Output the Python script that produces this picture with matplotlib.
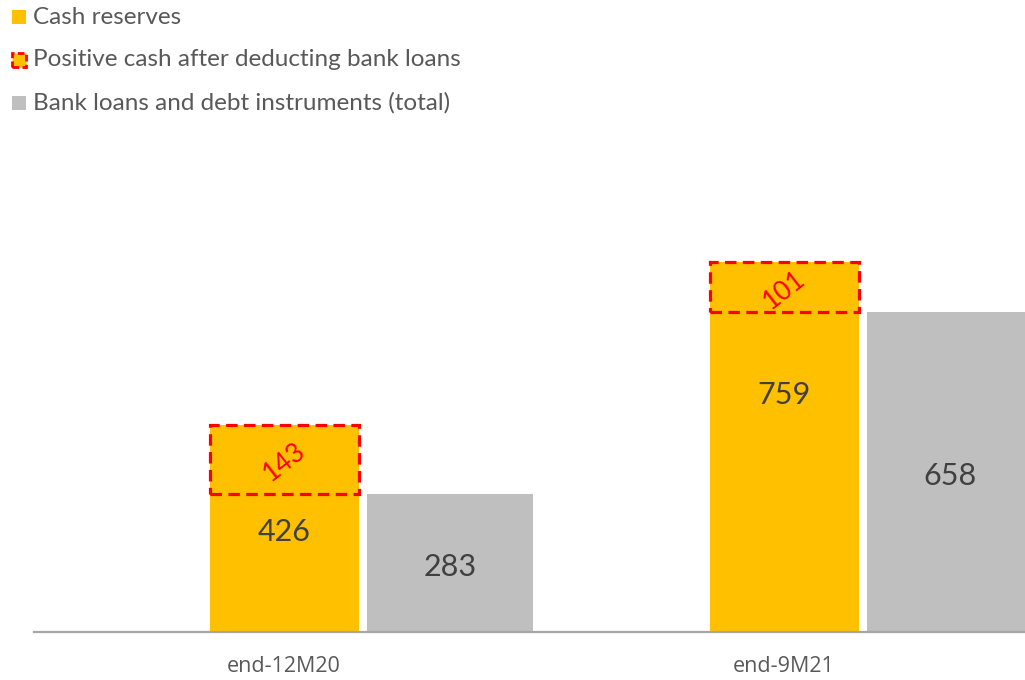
import matplotlib
matplotlib.use("Agg")
import matplotlib.pyplot as plt
from matplotlib.patches import Rectangle

plt.rcParams['font.family'] = ['Lato', 'DejaVu Sans']

categories = ["end-12M20", "end-9M21"]
cash_reserves = [426, 759]
bank_loans = [283, 658]
positive_cash = [143, 101]
legend_labels = ["Cash reserves", "Positive cash after deducting bank loans",
                 "Bank loans and debt instruments (total)"]

YELLOW = "#FFC000"
GREY = "#BFBFBF"
RED = "#FF0000"
TXT = "#404040"
LEG = "#595959"

W, H = 1025, 680
fig = plt.figure(figsize=(W / 100, H / 100), dpi=100)
# axes: x from 34 px to 1034 px (clipped by the figure), baseline at 632 px
ax_left, ax_right = 34, 1034
ax_bottom, ax_top = 632, 145
ax = fig.add_axes([ax_left / W, 1 - ax_bottom / H, (ax_right - ax_left) / W, (ax_bottom - ax_top) / H])
ax.set_xlim(-0.5, 1.5)
ax.set_ylim(0, 1000)
for s in ["top", "right", "left"]:
    ax.spines[s].set_visible(False)
ax.spines["bottom"].set_color("#A6A6A6")
ax.spines["bottom"].set_linewidth(1.6)
ax.spines["bottom"].set_zorder(5)
ax.set_yticks([])
ax.set_xticks(range(len(categories)))
ax.set_xticklabels(categories, fontsize=15.5, color=LEG, family=['Open Sans', 'DejaVu Sans'])
ax.tick_params(axis="x", length=0, pad=17)

yw = 0.298
gw = 0.332
goff = 0.332
x = list(range(len(categories)))

ax.bar(x, cash_reserves, width=yw, color=YELLOW, zorder=2)
ax.bar([i + goff for i in x], bank_loans, width=gw, color=GREY, zorder=2)

# dashed boxes for positive cash
for i in x:
    bottom = cash_reserves[i] - positive_cash[i]
    r = Rectangle((i - yw / 2, bottom), yw, positive_cash[i], facecolor="none",
                  edgecolor=RED, linewidth=2.3, linestyle=(0, (3.6, 2.0)), zorder=4)
    ax.add_patch(r)
    ax.annotate(str(positive_cash[i]), (i, bottom + positive_cash[i] / 2),
                xytext=(0, -2), textcoords="offset points", color=RED,
                fontsize=19, rotation=38, ha="center", va="center", zorder=6,
                rotation_mode="anchor")

# value labels
cash_label_frac = [0.5, 0.65]
for i in x:
    ax.annotate(str(cash_reserves[i]), (i, cash_reserves[i] * cash_label_frac[i]),
                xytext=(0, -2.5), textcoords="offset points",
                ha="center", va="center", fontsize=22, color=TXT, zorder=6)
    ax.annotate(str(bank_loans[i]), (i + goff, bank_loans[i] / 2),
                xytext=(0, -3), textcoords="offset points",
                ha="center", va="center", fontsize=22, color=TXT, zorder=6)

# legend (manual)
rows_y = [17, 60, 103]
sq = 14
for k, lab in enumerate(legend_labels):
    yc = rows_y[k]
    x0, y0 = 12 / W, 1 - (yc + sq / 2) / H
    if k == 1:
        p = Rectangle((x0, y0), sq / W, sq / H, transform=fig.transFigure,
                      facecolor=YELLOW, edgecolor=RED, linewidth=2.0,
                      linestyle=(0, (2.4, 1.2)))
    else:
        p = Rectangle((x0, y0), sq / W, sq / H, transform=fig.transFigure,
                      facecolor=YELLOW if k == 0 else GREY, edgecolor="none")
    fig.patches.append(p)
    fig.text(33 / W, 1 - yc / H, lab, fontsize=17.5, color=LEG, ha="left", va="center")

fig.savefig("out.png", dpi=100)
